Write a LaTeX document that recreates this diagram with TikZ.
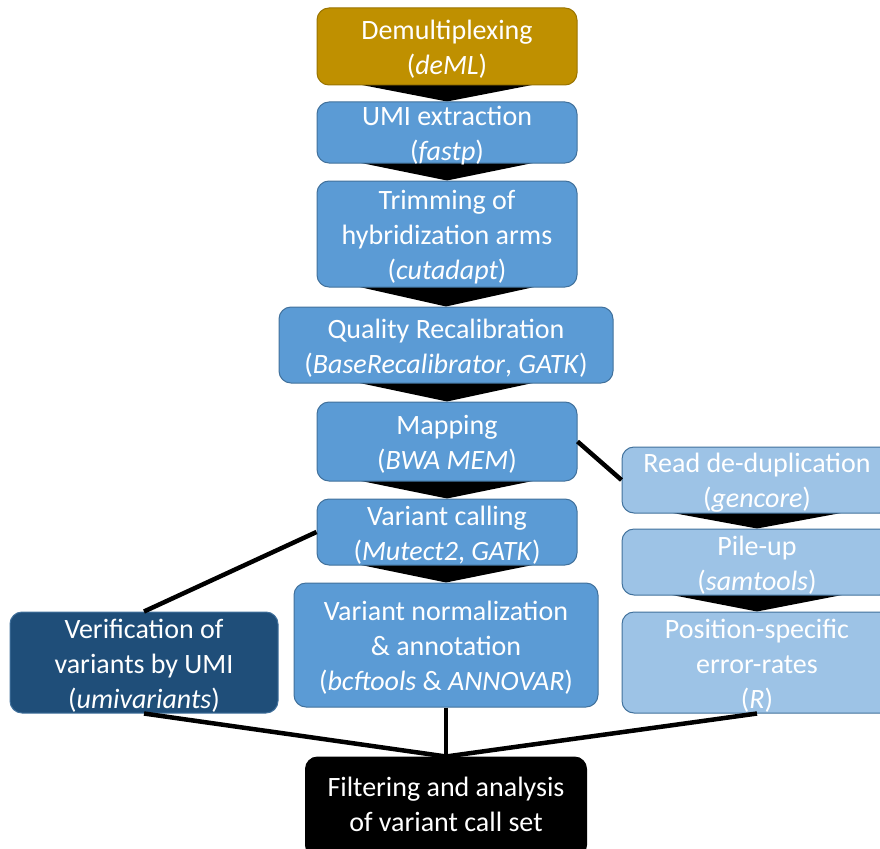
\documentclass[tikz,border=0pt]{standalone}
\usepackage{fontspec}
\setmainfont{Carlito}
\usetikzlibrary{backgrounds}

\definecolor{demuxgold}{HTML}{BF9000}
\definecolor{demuxedge}{HTML}{9A7400}
\definecolor{midblue}{HTML}{5B9BD5}
\definecolor{lightblue}{HTML}{9DC3E6}
\definecolor{darkblue}{HTML}{1F4E79}
\definecolor{edgeblue}{HTML}{41719C}

\newcommand\stagefont{\fontsize{28}{35}\selectfont}

\tikzset{
  stage/.style={rectangle, rounded corners=12pt, draw=edgeblue, line width=1pt,
    fill=midblue, inner sep=0pt},
  sidestage/.style={stage, fill=lightblue},
  stagetext/.style={text=white, align=center, font=\stagefont, inner sep=0pt, yshift=-3pt},
  link/.style={line width=4.5pt, black},
  chevron/.style={fill=black}
}

\begin{document}
\begin{tikzpicture}[x=1pt, y=-1pt]

        \useasboundingbox (0,0) rectangle (880,848);

        % main column
        \node[stage, fill=demuxgold, draw=demuxedge, minimum width=260pt, minimum height=77pt,
              label={[stagetext]center:{Demultiplexing\\(\textit{deML})}}] (demux) at (447,46.5) {};
        \node[stage, minimum width=260pt, minimum height=61pt,
              label={[stagetext]center:{UMI extraction\\(\textit{fastp})}}] (umi) at (447,132.5) {};
        \node[stage, minimum width=260pt, minimum height=106pt,
              label={[stagetext]center:{Trimming of\\hybridization arms\\(\textit{cutadapt})}}] (trim) at (447,234) {};
        \node[stage, minimum width=334pt, minimum height=76pt,
              label={[stagetext]center:{Quality Recalibration\\(\textit{BaseRecalibrator}, \textit{GATK})}}] (qual) at (446,345) {};
        \node[stage, minimum width=260pt, minimum height=79pt,
              label={[stagetext]center:{Mapping\\(\textit{BWA MEM})}}] (map) at (447,441.5) {};
        \node[stage, minimum width=260pt, minimum height=66pt,
              label={[stagetext]center:{Variant calling\\(\textit{Mutect2}, \textit{GATK})}}] (call) at (447,532) {};
        \node[stage, minimum width=304pt, minimum height=124pt,
              label={[stagetext]center:{Variant normalization\\\& annotation\\(\textit{bcftools} \& \textit{ANNOVAR})}}] (norm) at (446,645) {};

        % side branches
        \node[stage, fill=darkblue, minimum width=268pt, minimum height=101pt,
              label={[stagetext]center:{Verification of\\variants by UMI\\(\textit{umivariants})}}] (verif) at (144,662.5) {};
        \node[sidestage, minimum width=270pt, minimum height=66pt,
              label={[stagetext]center:{Read de-duplication\\(\textit{gencore})}}] (dedup) at (757,480) {};
        \node[sidestage, minimum width=270pt, minimum height=66pt,
              label={[stagetext]center:{Pile-up\\(\textit{samtools})}}] (pile) at (757,562) {};
        \node[sidestage, minimum width=270pt, minimum height=101pt,
              label={[stagetext]center:{Position-specific\\error-rates\\(\textit{R})}}] (posr) at (757,662.5) {};

        \node[stage, fill=black, draw=black, minimum width=281pt, minimum height=100pt,
              label={[stagetext, yshift=6pt]center:{Filtering and analysis\\of variant call set}}] (filt) at (446,807) {};

        \begin{scope}[on background layer]
        \foreach \a/\b in {demux/umi, umi/trim, trim/qual, qual/map, map/call, call/norm, dedup/pile, pile/posr}
            \fill[chevron] ([xshift=-103pt,yshift=4pt]\a.south) -- (\b.north) -- ([xshift=103pt,yshift=4pt]\a.south) -- cycle;
        \end{scope}

        \draw[link] (map.east) -- (dedup.west);
        \draw[link] (call.west) -- (verif.north);
        \draw[link] (verif.south) -- (filt.north);
        \draw[link] (norm.south) -- (filt.north);
        \draw[link] (posr.south) -- (filt.north);

\end{tikzpicture}
\end{document}
